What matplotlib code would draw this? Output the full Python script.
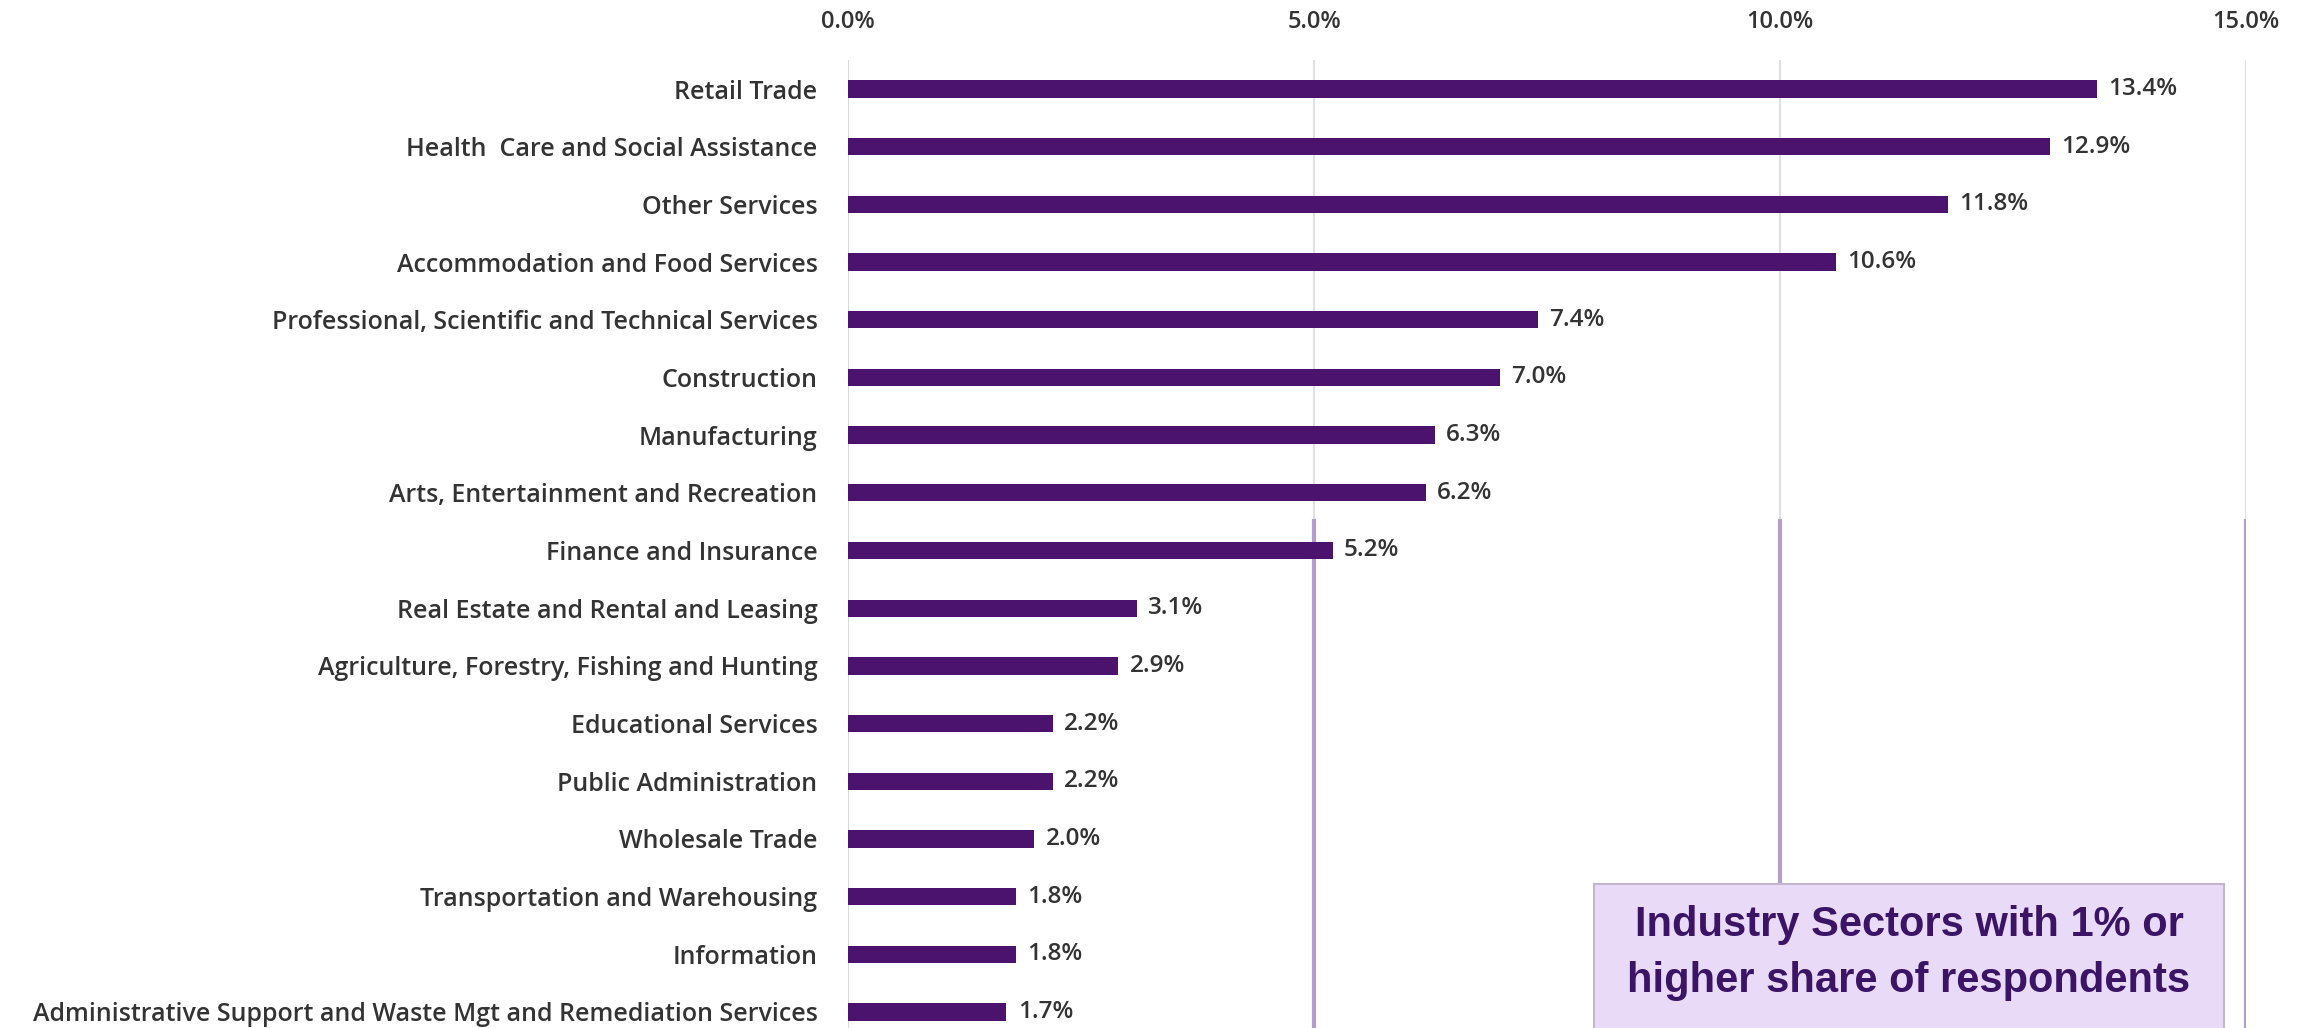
import matplotlib.pyplot as plt
from matplotlib.patches import FancyBboxPatch

# 行业占比数据
sectors = ["Retail Trade",
           "Health  Care and Social Assistance",
           "Other Services",
           "Accommodation and Food Services",
           "Professional, Scientific and Technical Services",
           "Construction",
           "Manufacturing",
           "Arts, Entertainment and Recreation",
           "Finance and Insurance",
           "Real Estate and Rental and Leasing",
           "Agriculture, Forestry, Fishing and Hunting",
           "Educational Services",
           "Public Administration",
           "Wholesale Trade",
           "Transportation and Warehousing",
           "Information",
           "Administrative Support and Waste Mgt and Remediation Services"]
shares = [13.4, 12.9, 11.8, 10.6, 7.4, 7.0, 6.3, 6.2, 5.2, 3.1, 2.9, 2.2, 2.2, 2.0, 1.8, 1.8, 1.7]
xticks = [0, 5, 10, 15]
xtick_labels = ["0.0%", "5.0%", "10.0%", "15.0%"]
box_text = "Industry Sectors with 1% or\nhigher share of respondents"

bar_color = '#4b136e'
text_color = '#333333'
font = ['Open Sans', 'DejaVu Sans']

fig = plt.figure(figsize=(23, 10.28), dpi=100)
ax = fig.add_axes([0.3687, -0.01245, 0.60783, 0.9539])

y = list(range(len(sectors)))
ax.barh(y, shares, height=0.3, color=bar_color, zorder=3)
for a, b in zip(y, shares):
    ax.text(b + 0.12, a, '%.1f%%' % b, ha='left', va='center', fontweight='semibold',
            fontsize=17.5, color=text_color, family=font, zorder=4)

ax.set_xlim(0, 15)
ax.set_ylim(len(sectors) - 0.5, -0.5)
ax.set_yticks(y)
ax.set_yticklabels(sectors, fontsize=18, color=text_color, family=font, fontweight='semibold')
ax.set_xticks(xticks)
ax.set_xticklabels(xtick_labels, fontsize=17, color=text_color, family=font, fontweight='semibold')
ax.xaxis.tick_top()
ax.tick_params(axis='x', length=0, pad=19)
ax.tick_params(axis='y', length=0, pad=22)
for s in ax.spines.values():
    s.set_visible(False)

# 网格线: 上半部分浅灰, 下半部分淡紫
for t in xticks:
    if t == 0:
        ax.axvline(t, color='#d8d8d8', lw=1.5, zorder=1)
    else:
        ax.axvline(t, ymin=0.53, ymax=1.0, color='#e2e0e6', lw=1.5, zorder=1)
        ax.axvline(t, ymin=0.0, ymax=0.53, color='#b49ccb', lw=3, zorder=1)

# 右下角说明框
box = FancyBboxPatch((1594 / 2300, -0.01), (2224 - 1594) / 2300, (1028 - 884) / 1028 + 0.01,
                     boxstyle='square,pad=0', transform=fig.transFigure,
                     facecolor='#e9dbf7', edgecolor='#c4b6d2', lw=1.5, zorder=5)
fig.patches.append(box)
fig.text((1594 + 2224) / 2 / 2300, 1 - 953 / 1028, box_text, ha='center', va='center',
         fontsize=30, fontweight='bold', color='#3b1466', family=['Liberation Sans', 'DejaVu Sans'],
         linespacing=1.5, zorder=6)

plt.savefig('out.png')
